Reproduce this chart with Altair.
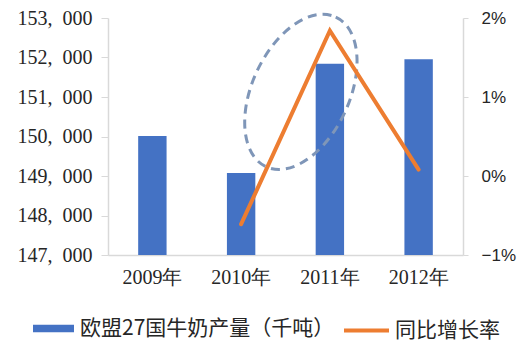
import altair as alt
import pandas as pd

# ---- data ----
years = ["2009年", "2010年", "2011年", "2012年"]
production = [150010, 149075, 151840, 151955]
growth_years = ["2010年", "2011年", "2012年"]
growth = [-0.0061, 0.0184, 0.0008]
bar_series = "欧盟27国牛奶产量（千吨）"
line_series = "同比增长率"
left_ticks = [147000, 148000, 149000, 150000, 151000, 152000, 153000]
right_ticks = [-0.01, 0.0, 0.01, 0.02]
highlight_year = ["2011年"]
highlight_center = [151130]
bar_base = 147000

SERIF = "Liberation Serif"
CJK = "Noto Sans CJK SC"
NARROW = "Liberation Sans Narrow, Liberation Sans, sans-serif"
AXIS_GRAY = "#D9D9D9"
TEXT = "#262626"

bars_df = pd.DataFrame({"year": years, "value": production, "base": [bar_base] * len(years),
                        "series": [bar_series] * len(years)})
line_df = pd.DataFrame({"year": growth_years, "growth": growth, "series": [line_series] * len(growth_years)})
ell_df = pd.DataFrame({"year": highlight_year, "center": highlight_center})

x_enc = alt.X(
    "year:N",
    sort=years,
    scale=alt.Scale(domain=years, paddingInner=0.68, paddingOuter=0.34),
    axis=alt.Axis(
        title=None, labelAngle=0, ticks=False, domainColor=AXIS_GRAY, domainWidth=1.5,
        labelFont=SERIF, labelFontSize=20, labelPadding=12, labelColor=TEXT,
    ),
)

bars = alt.Chart(bars_df).mark_bar(color="#4472C4", clip=True).encode(
    x=x_enc,
    y=alt.Y(
        "value:Q",
        scale=alt.Scale(domain=[147000, 153000], zero=False, nice=False),
        axis=alt.Axis(
            orient="left", values=left_ticks, title=None, grid=False,
            labelExpr="replace(format(datum.value, ','), ',', ',\u00a0\u00a0')",
            tickSize=7, tickColor=AXIS_GRAY, domainColor=AXIS_GRAY, domainWidth=1.5,
            labelFont=SERIF, labelFontSize=20, labelPadding=9, labelColor=TEXT,
        ),
    ),
    y2=alt.Y2("base:Q"),
    color=alt.Color(
        "series:N",
        scale=alt.Scale(domain=[bar_series], range=["#4472C4"]),
        legend=alt.Legend(
            title=None, orient="none", legendX=-75, legendY=290, padding=0,
            symbolType="M-1,-0.18H1V0.18H-1Z", symbolSize=1681, symbolStrokeWidth=0,
            symbolOpacity=1, labelFont=CJK, labelFontSize=21, labelOffset=6, labelColor=TEXT,
            labelLimit=400,
        ),
    ),
)

ellipse = alt.Chart(ell_df).mark_point(
    shape="M0.4226,-0.9063A0.585,1,25,1,1,-0.4226,0.9063A0.585,1,25,1,1,0.4226,-0.9063Z",
    size=27225, filled=False, stroke="#7F96B8", strokeWidth=3, strokeDash=[9, 6],
    opacity=1, xOffset=-29,
).encode(
    x=x_enc,
    y=alt.Y("center:Q", scale=alt.Scale(domain=[147000, 153000], zero=False, nice=False), axis=None),
)

line = alt.Chart(line_df).mark_line(strokeWidth=4, strokeCap="round", strokeJoin="miter").encode(
    x=x_enc,
    y=alt.Y(
        "growth:Q",
        scale=alt.Scale(domain=[-0.01, 0.02], nice=False, zero=False),
        axis=alt.Axis(
            orient="right", values=right_ticks, format=".0%", title=None, grid=False,
            tickSize=5, tickColor=AXIS_GRAY, domainColor=AXIS_GRAY, domainWidth=1.5,
            labelFont=NARROW, labelFontSize=17, labelPadding=13, labelColor=TEXT,
        ),
    ),
    stroke=alt.Stroke(
        "series:N",
        scale=alt.Scale(domain=[line_series], range=["#ED7D31"]),
        legend=alt.Legend(
            title=None, orient="none", legendX=234, legendY=288, padding=0,
            symbolType="stroke", symbolSize=2025, symbolStrokeWidth=4,
            labelFont=CJK, labelFontSize=21, labelOffset=4, labelColor=TEXT,
        ),
    ),
)

chart = (
    alt.layer(bars, ellipse, line)
    .resolve_scale(y="independent")
    .properties(
        width=355, height=237,
        autosize=alt.AutoSizeParams(type="none"),
        padding={"left": 108, "top": 18, "right": 64, "bottom": 90},
        background="white",
    )
    .configure_view(stroke=None)
)

chart.save("out.html", embed_options={"renderer": "svg", "actions": False})
